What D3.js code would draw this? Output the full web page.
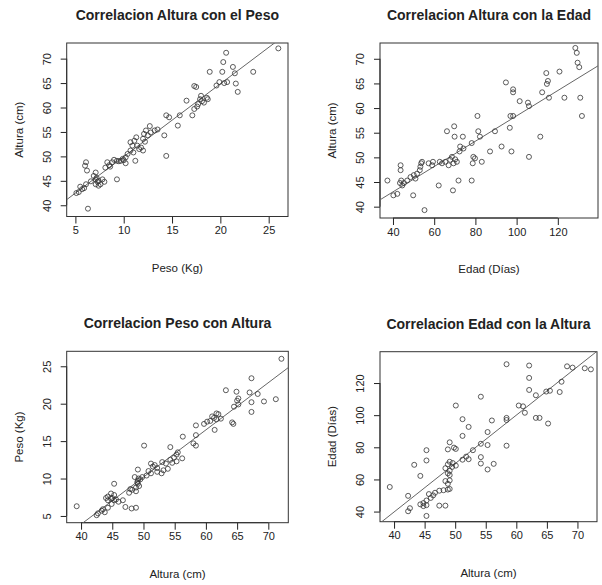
<!DOCTYPE html>
<html>
<head>
<meta charset="utf-8">
<script src="https://cdn.jsdelivr.net/npm/d3@7/dist/d3.min.js"></script>
<style>
  html, body { margin: 0; padding: 0; background: #fff; }
  svg { display: block; font-family: "Liberation Sans", Arial, sans-serif; }
</style>
</head>
<body>
<div id="chart"></div>
<script>
// ── Data ──────────────────────────────────────────────────────────────────

// children measured for weight + height (panels 1 and 3)
const PESO = [
  5.1, 5.35, 5.7, 5.5, 6.1, 5.9, 6.0, 6.1, 6.2, 6.3,
  6.9, 7.1, 7.1, 7.3, 7.1, 7.4, 7.6, 7.8, 8.0, 7.4,
  7.2, 8.1, 8.3, 8.5, 8.8, 9.0, 9.3, 9.3, 9.7, 9.9,
  10.2, 10.2, 10.4, 10.7, 10.9, 11.1, 11.3, 10.7, 11.2, 11.4,
  11.6, 11.8, 12.0, 12.0, 12.1, 12.3, 12.5, 12.7, 12.8, 13.2,
  13.5, 14.2, 14.4, 14.4, 14.7, 15.6, 15.8, 16.5, 17.1, 17.3,
  17.3, 17.5, 17.7, 17.9, 18.0, 18.3, 18.6, 18.7, 18.9, 19.6,
  19.9, 20.2, 20.3, 20.6, 20.7, 21.3, 21.5, 21.6, 21.8, 23.4,
  26.0, 9.5, 10.0, 8.6, 11.0, 6.6, 18.1, 20.4, 12.2, 17.6
];
const ALTURA_P = [
  42.5, 42.7, 43.3, 43.8, 44.3, 43.5, 48.1, 48.8, 47.1, 39.3,
  46.0, 46.7, 45.3, 44.8, 44.3, 45.0, 44.3, 45.3, 44.8, 44.0,
  45.6, 47.7, 48.8, 48.2, 48.8, 49.3, 49.1, 45.3, 49.1, 49.5,
  49.8, 48.6, 50.5, 51.2, 52.2, 53.2, 53.9, 52.9, 49.1, 52.2,
  51.5, 51.8, 51.2, 53.6, 54.6, 55.3, 54.3, 56.2, 54.9, 55.3,
  55.5, 54.3, 50.1, 58.4, 58.0, 56.3, 58.4, 61.4, 58.4, 64.4,
  59.7, 64.2, 60.7, 61.7, 62.4, 61.0, 62.0, 61.7, 67.3, 64.5,
  65.2, 67.3, 69.3, 71.2, 65.2, 68.3, 67.0, 64.9, 63.2, 67.3,
  72.1, 49.0, 49.2, 47.9, 50.8, 44.9, 61.3, 65.0, 53.0, 60.2
];

// children measured for age + height (panels 2 and 4)
const EDAD = [
  37.3, 40.2, 42.1, 43.4, 43.7, 43.7, 44.0, 44.5, 45.3, 46.9,
  48.5, 49.8, 50.1, 50.9, 51.7, 53.0, 53.3, 53.7, 54.1, 55.3,
  57.3, 59.0, 59.4, 62.2, 62.7, 63.8, 65.4, 66.2, 67.0, 67.8,
  68.6, 69.1, 69.4, 69.7, 69.9, 70.2, 71.0, 71.8, 72.3, 72.6,
  73.9, 74.2, 78.2, 78.2, 78.7, 79.0, 79.8, 81.0, 81.4, 82.2,
  83.1, 87.1, 89.5, 92.7, 94.8, 96.7, 97.0, 97.5, 98.3, 98.3,
  98.3, 101.5, 105.5, 106.0, 106.0, 111.5, 112.4, 114.4, 114.7, 115.2,
  115.7, 120.8, 123.2, 128.5, 129.2, 129.6, 130.4, 130.9, 131.7
];
const ALTURA_E = [
  45.3, 42.3, 42.6, 44.8, 47.4, 48.4, 45.3, 44.3, 44.8, 45.3,
  46.0, 42.3, 46.4, 45.7, 46.7, 47.4, 48.1, 48.8, 49.1, 39.3,
  48.8, 48.4, 49.1, 44.3, 49.1, 48.8, 49.1, 55.3, 48.4, 49.5,
  50.1, 43.3, 48.8, 56.3, 54.2, 49.6, 49.1, 45.3, 51.2, 52.2,
  54.2, 51.8, 52.9, 45.3, 48.8, 50.1, 49.8, 58.4, 55.3, 54.2,
  49.1, 51.2, 55.3, 52.2, 65.2, 56.0, 58.4, 51.2, 58.4, 63.8,
  63.2, 61.4, 61.1, 60.4, 50.1, 54.2, 63.2, 67.1, 64.9, 65.5,
  62.1, 67.4, 62.1, 72.2, 71.2, 69.2, 68.3, 62.1, 58.4
];

const TICKS_PESO   = [5, 10, 15, 20, 25];
const TICKS_ALTURA = [40, 45, 50, 55, 60, 65, 70];
const TICKS_EDAD   = [40, 60, 80, 100, 120];

const DOM_PESO   = [4.1, 27.0];
const DOM_ALTURA = [37.7, 73.2];
const DOM_EDAD   = [33.7, 139.5];

const LBL_PESO   = 'Peso (Kg)';
const LBL_ALTURA = 'Altura (cm)';
const LBL_EDAD   = 'Edad (Días)';

// ── Panels ────────────────────────────────────────────────────────────────

const W = 602, H = 585;

const PANELS = [
  { title: 'Correlacion Altura con el Peso', x: PESO, y: ALTURA_P,
    xDom: DOM_PESO, yDom: DOM_ALTURA, xTicks: TICKS_PESO, yTicks: TICKS_ALTURA,
    xLab: LBL_PESO, yLab: LBL_ALTURA, box: { l: 66.7, r: 288, t: 43, b: 216.5 } },
  { title: 'Correlacion Altura con la Edad', x: EDAD, y: ALTURA_E,
    xDom: DOM_EDAD, yDom: DOM_ALTURA, xTicks: TICKS_EDAD, yTicks: TICKS_ALTURA,
    xLab: LBL_EDAD, yLab: LBL_ALTURA, box: { l: 380, r: 598, t: 43, b: 218 } },
  { title: 'Correlacion Peso con Altura', x: ALTURA_P, y: PESO,
    xDom: DOM_ALTURA, yDom: DOM_PESO, xTicks: TICKS_ALTURA, yTicks: TICKS_PESO,
    xLab: LBL_ALTURA, yLab: LBL_PESO, box: { l: 66.7, r: 288.3, t: 351.3, b: 522.7 } },
  { title: 'Correlacion Edad con la Altura', x: ALTURA_E, y: EDAD,
    xDom: DOM_ALTURA, yDom: DOM_EDAD, xTicks: TICKS_ALTURA, yTicks: TICKS_EDAD,
    xLab: LBL_ALTURA, yLab: LBL_EDAD, box: { l: 380, r: 597, t: 351.7, b: 521.7 } }
];

// ── Helpers ───────────────────────────────────────────────────────────────

// ordinary least squares, y = a + b x
function fit(xs, ys) {
  const mx = d3.mean(xs), my = d3.mean(ys);
  let sxy = 0, sxx = 0;
  xs.forEach(function (v, i) {
    sxy += (v - mx) * (ys[i] - my);
    sxx += (v - mx) * (v - mx);
  });
  const b = sxy / sxx;
  return { a: my - b * mx, b: b };
}

const svg = d3.select('#chart').append('svg')
  .attr('width', W).attr('height', H)
  .attr('viewBox', [0, 0, W, H]);

PANELS.forEach(function (p, k) {
  const bx = p.box;
  const xs = d3.scaleLinear().domain(p.xDom).range([bx.l, bx.r]);
  const ys = d3.scaleLinear().domain(p.yDom).range([bx.b, bx.t]);
  const g = svg.append('g');
  const clipId = 'clip' + k;

  g.append('clipPath').attr('id', clipId)
    .append('rect')
    .attr('x', bx.l).attr('y', bx.t)
    .attr('width', bx.r - bx.l).attr('height', bx.b - bx.t);

  // axes (R-style: ticks outward, labels parallel to axis)
  const xAxis = d3.axisBottom(xs).tickValues(p.xTicks).tickSize(7).tickPadding(3).tickSizeOuter(0);
  g.append('g').attr('transform', 'translate(0,' + bx.b + ')').call(xAxis)
    .call(function (a) {
      a.select('.domain').attr('stroke', '#222')
        .attr('d', 'M' + xs(p.xTicks[0]) + ',0H' + xs(p.xTicks[p.xTicks.length - 1]));
      a.selectAll('line').attr('stroke', '#222');
      a.selectAll('text').attr('font-size', 11).attr('fill', '#222')
        .attr('font-family', '"Liberation Sans", Arial, sans-serif');
    });

  const yAxis = d3.axisLeft(ys).tickValues(p.yTicks).tickSize(6).tickSizeOuter(0);
  g.append('g').attr('transform', 'translate(' + bx.l + ',0)').call(yAxis)
    .call(function (a) {
      a.select('.domain').attr('stroke', '#222')
        .attr('d', 'M0,' + ys(p.yTicks[0]) + 'V' + ys(p.yTicks[p.yTicks.length - 1]));
      a.selectAll('line').attr('stroke', '#222');
      a.selectAll('text')
        .attr('font-size', 11).attr('fill', '#222')
        .attr('font-family', '"Liberation Sans", Arial, sans-serif')
        .attr('x', null).attr('dy', null)
        .attr('text-anchor', 'middle')
        .attr('dominant-baseline', 'central')
        .attr('transform', 'translate(-20,0) rotate(-90)');
    });

  // box
  g.append('rect')
    .attr('x', bx.l).attr('y', bx.t)
    .attr('width', bx.r - bx.l).attr('height', bx.b - bx.t)
    .attr('fill', 'none').attr('stroke', '#333').attr('stroke-width', 1);

  // regression line across the plot region
  const lm = fit(p.x, p.y);
  g.append('line')
    .attr('clip-path', 'url(#' + clipId + ')')
    .attr('x1', xs(p.xDom[0])).attr('y1', ys(lm.a + lm.b * p.xDom[0]))
    .attr('x2', xs(p.xDom[1])).attr('y2', ys(lm.a + lm.b * p.xDom[1]))
    .attr('stroke', '#666').attr('stroke-width', 1);

  // points (open circles)
  g.append('g').selectAll('circle')
    .data(p.x.map(function (v, i) { return [v, p.y[i]]; }))
    .join('circle')
    .attr('cx', function (d) { return xs(d[0]); })
    .attr('cy', function (d) { return ys(d[1]); })
    .attr('r', 2.5)
    .attr('fill', 'none')
    .attr('stroke', '#333')
    .attr('stroke-width', 0.8);

  // titles and axis labels
  const cx = (bx.l + bx.r) / 2, cy = (bx.t + bx.b) / 2;
  g.append('text')
    .attr('x', cx).attr('y', bx.t - 28)
    .attr('text-anchor', 'middle').attr('dominant-baseline', 'central')
    .attr('font-size', 14).attr('font-weight', 'bold').attr('fill', '#222')
    .text(p.title);
  g.append('text')
    .attr('x', cx).attr('y', bx.b + 51)
    .attr('text-anchor', 'middle').attr('dominant-baseline', 'central')
    .attr('font-size', 11.5).attr('fill', '#222')
    .text(p.xLab);
  g.append('text')
    .attr('transform', 'translate(' + (bx.l - 48) + ',' + cy + ') rotate(-90)')
    .attr('text-anchor', 'middle').attr('dominant-baseline', 'central')
    .attr('font-size', 11.5).attr('fill', '#222')
    .text(p.yLab);
});
</script>
</body>
</html>
